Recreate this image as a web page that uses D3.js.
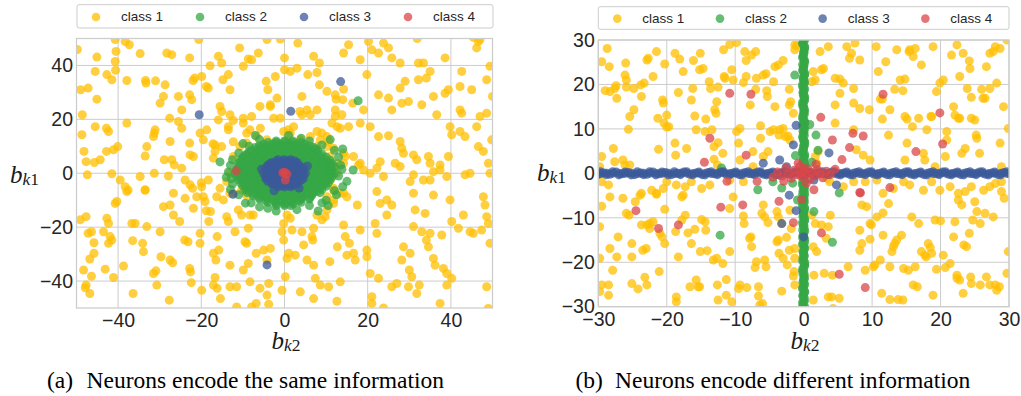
<!DOCTYPE html>
<html><head><meta charset="utf-8">
<script src="https://cdn.jsdelivr.net/npm/d3@7"></script>
<style>body{margin:0;background:#fff}svg{display:block}</style>
</head><body><svg id="c" width="1021" height="396"></svg>
<script>
const classNames = ["class 1","class 2","class 3","class 4"];
const classColors = ["#ffbf00","#35a745","#3b5a99","#d9474a"];
const ticksA = [-40,-20,0,20,40];
const ticksB = [-30,-20,-10,0,10,20,30];
const captionA = ["(a)","Neurons encode the same information"];
const captionB = ["(b)","Neurons encode different information"];

// ---------- panel (a) ----------
const a1 = [[-49.8,45.9],[-40.7,49.6],[-38.3,48.9],[-37.3,47.7],[-34.7,44.4],[-45.1,43.1],[-40.7,41.5],[-40.5,45.2],[-45.5,37.8],[-49,31],[-47.2,31.6],[-48.6,21.7],[-45.1,27.5],[-42.7,36.6],[-41.5,34.7],[-40.6,38.2],[-37.9,34.4],[-33.4,34.4],[-31,34.3],[-33.3,33.5],[-28.7,32.8],[-29.1,28.5],[-29.9,26],[-28.3,44.6],[-27.1,44],[-25.5,28.5],[-24.7,23.5],[-22.8,29.1],[-22.3,27.3],[-22.8,42.8],[-22,34.4],[-21.6,35.3],[-20.6,49.6],[-19.9,35.9],[-18.8,32.2],[-18.3,31.6],[-17.9,39.9],[-15.9,43.4],[-15.1,40.9],[-14.8,34.7],[-13.1,31],[-13.5,36.6],[-10.8,46.5],[-9.9,39.7],[-8.7,42.4],[-7.9,42.1],[-6.3,44.6],[-4.4,34.1],[-4,31],[-4.2,49.6],[-2.2,35.9],[-1,49.8],[0,42.8],[0,38.4],[1.4,37.8],[3,39],[3.2,48.3],[4.2,28.5],[7,43.4],[8.4,40.9],[7.8,37.4],[5.6,36.6],[8.4,32.8],[10.2,30.4],[12.2,29.1],[14.2,31.2],[12.4,27.5],[14,27.3],[16.4,26],[14.2,44.6],[15.4,47.7],[18.2,42.1],[19.8,36.6],[19,23.5],[20.2,48.9],[21,45.8],[22.6,44.6],[23.8,48.3],[25,46.5],[25.8,42.8],[27.8,40.9],[29,34.1],[27.8,31.6],[29.8,26.6],[28.2,26],[25,27.9],[22.6,29.1],[25.8,23.5],[32.2,40.9],[33.4,40.9],[31.9,50],[34.1,35.3],[35,37.8],[32.2,34.7],[33,25.4],[35.8,28.5],[36.6,21.7],[38.6,42.8],[38.6,29.7],[39.4,31],[42.2,23.5],[42.6,22.3],[42.2,32.2],[42.6,37.8],[45.4,50.4],[46.6,48.9],[46.2,46.5],[47,49.6],[49.4,39.7],[48.6,34.7],[45,31],[48.6,22.3],[50,28.5],
[-48.7,14.3],[-48.2,8.1],[-45.5,17.3],[-42.8,16.7],[-42.3,15.5],[-37.9,18.6],[-40.1,9.9],[-41.1,8.7],[-42.8,8.1],[-44.3,5],[-47.7,4.3],[-45.7,4],[-47.4,-0.6],[-41.5,-0.2],[-39.5,-2.5],[-38.3,-5],[-37.6,-6.2],[-34.7,-1.2],[-33.5,-6.2],[-33.5,6.4],[-33.1,9.9],[-31.3,14.9],[-31.5,13.6],[-31.1,16.1],[-31.3,0],[-28.9,5],[-27.1,5],[-26.5,3.1],[-27.9,-1],[-24.7,1.9],[-23.9,-2.5],[-22.7,-4.3],[-22.1,-5.6],[-20,-3.5],[-19.9,-5],[-21.9,6.2],[-22.7,6.8],[-19.5,12.4],[-18.7,16.1],[-20.3,14.9],[-22.8,11.2],[-24.7,16.7],[-27.5,11.8],[-27.6,20.4],[-25.5,19.2],[-15.9,19.8],[-15.1,22.9],[-13.1,21.7],[-13.5,17.3],[-12.3,19.6],[-17.2,10.9],[-16.7,8.1],[-15.1,9.9],[-9.9,20.4],[-8.3,16.1],[-7.9,21.1],[-5.8,16.7],[-6.7,13.6],[-2.6,20.4],[-3.4,24.8],[-0.2,15.5],[1.4,14.9],[-1.8,27.9],[2.2,17.3],[4.2,21.7],[6.2,21.7],[7.8,23.5],[9,14.9],[8.6,12.4],[10.6,11.8],[11.8,9.3],[14.2,7.4],[12.6,17.3],[12.2,21.1],[13.8,21.7],[15.4,17.3],[18.2,18.6],[20.6,17.3],[22.6,13.6],[25,13.9],[27.8,11.8],[28.2,9.3],[28.6,7.4],[31,6.8],[31.8,5],[34.6,6.2],[35,3.7],[37.4,3.1],[37.4,1.2],[35.8,0.6],[39.4,6.2],[39.8,17.3],[40.2,14.3],[42.2,15.5],[43.4,13.6],[46.6,9.9],[47.8,8.1],[49,3.7],[46.2,17.3],[49.8,12.4],[47,21.1],[49.4,0],[44.6,0],[43.4,-0.6],[39,-1.2],[35,-2.5],[33.4,-2.5],[31,-0.6],[30.2,-3.1],[23.8,-1.2],[22.2,1.9],[20.6,0],[23,4.3],[27.8,2.5],[26.6,3.7],[17.8,3.1],[19,1.2],[18.2,3.7],[16.6,6.2],[14.6,6.2],[12.6,3.7],[11.8,2.5],[7.8,9.9],
[-12.3,6.2],[-10.7,9.9],[-9.1,11.2],[-13.1,0],[-13.9,-3.1],[-12.3,-7.4],[-10.3,-6.2],[-9.1,-8.1],[-5.4,9.9],[-4.2,12.4],[-1.8,11.2],[0.6,12.4],[2.2,9.9],[3.8,12.4],[6.2,13.6],[10.2,9.9],[11,6.2],[9.8,0],[11,-2.5],[11.8,-5.6],[14.2,-7.4],[12.6,0],
[-49.1,-17.3],[-47.7,-16.1],[-47.2,-22.3],[-46.4,-21.7],[-45.8,-25.8],[-48.3,-35.9],[-45.8,-29.7],[-46.8,-31.8],[-46.4,-38.2],[-47.7,-41.5],[-46.8,-44.6],[-47.9,-42.5],[-40.7,-11.2],[-40.3,-10.5],[-42.7,-16.7],[-42.3,-18.6],[-43.5,-21.7],[-41.9,-23.5],[-42.3,-26],[-41.5,-24.8],[-43.1,-35.6],[-41.1,-38.7],[-38.7,-34.4],[-36.7,-18.6],[-35.9,-18.6],[-36.4,-44.6],[-36.5,-25],[-34.1,-26],[-33.9,-29.1],[-33.1,-19.8],[-31.5,-37.2],[-30.9,-36.2],[-30.7,-41.5],[-29.9,-21.7],[-29.7,-31],[-29.1,-12.4],[-27.5,-11.8],[-26.7,-15.5],[-27.5,-32.2],[-26.9,-33.2],[-27.7,-47.1],[-25.2,-17.9],[-24,-24.8],[-23.2,-25.4],[-22.8,-35.3],[-22.6,-36.6],[-22.4,-40.6],[-21.9,-13],[-21.1,-8.7],[-20.3,-22.3],[-20.3,-26],[-19.9,-43.4],[-18.8,-13.9],[-18.2,-17.9],[-17.8,-14.2],[-16.2,-23.5],[-15.8,-28.5],[-17.1,-29.7],[-16.5,-32.2],[-16.7,-38.7],[-17.1,-41.5],[-16.2,-42.7],[-15.4,-46.5],[-13.9,-16.1],[-13.5,-17.9],[-13.1,-34.1],[-11.9,-21.7],[-13.1,-42.1],[-11.5,-42.1],[-9.9,-35.9],[-11.5,-49.6],[-9.5,-25.4],[-9.1,-26],[-8.7,-20.4],[-8.7,-33.5],[-8.3,-40.3],[-7.9,-49.6],[-7.5,-15.5],[-6.8,-29.7],[-5.9,-42.7],[-6.8,-48.3],[-5,-28.5],[-4.2,-32.2],[-4.2,-45.2],[-3.8,-48.6],[-3.8,-40.9],[-3.4,-27.9],[-0.6,-21.7],[-0.2,-18.6],[-0.2,-24.8],[0.2,-38.4],[-0.6,-43.4],[0.6,-31.6],[1,-29.7],[1.4,-16.7],[1.8,-21.1],[2.6,-30.4],[3.8,-44],[4.2,-21.7],[4.6,-26.6],[5.4,-32.2],[6.6,-23.5],[6.8,-24.8],[7,-20.4],[7,-34.1],[7.4,-39],[7,-46.5],[8.6,-41.5],[9,-17.3],[9.8,-16.1],[10.9,-32.8],[10.6,-42.1],[11.8,-11.2],[12.6,-47.5],[12.7,-27.3],[13.4,-40.3],[14.2,-19.2],[14.6,-23.5],[15,-30.4],[16.6,-29.7],[17,-32.2],[15.6,-26],[17.5,-11.8],[18.2,-21.1],[19.8,-28.5],[19.8,-31],[20.6,-37.2],[21,-45.8],[21,-48.3],[21.8,-18.6],[22.2,-22.3],[22.6,-39],[23,-11.2],[23.8,-50],[24.6,-15.5],[25.8,-42.1],[27,-40.9],[28.2,-32.2],[28.6,-27.3],[30.2,-29.7],[30,-35.9],[30.6,-38.4],[29.8,-42.1],[31.4,-13.6],[31,-19.8],[31.8,-44.6],[32.4,-41.5],[33,-21.7],[33.8,-14.9],[34.1,-24.8],[34.6,-27.3],[35.8,-31.6],[36.2,-34.1],[35,-22.3],[37.8,-22.9],[38.2,-35.3],[39,-37.2],[39,-41.5],[37.4,-48.3],[40.2,-39],[40.2,-17.9],[41.8,-20.4],[43,-15.5],[44.6,-21.7],[45.4,-22.3],[47.4,-21.1],[48.2,-11.8],[48.6,-16.1],[49,-18.6],[49.4,-26],[48.6,-42.1],[49,-50.2],
[-37.9,-6.8],[-33.5,-6.2],[-26.7,-7.4],[-23.9,-9.3],[13.4,-7.4],[22.2,-6.8],[31,-7.4],[35.8,-8.1],[47.8,-8.7],[39.8,-9.9],[24.6,-9.9],[25.8,-11.8],[10.2,-8.7],[11.8,-6.2],[-16.3,-8.7],[-19.1,-10.5],[-13.1,-7.4],
[-15.5,24.8],[-16.7,10.5],[-17.1,5.6],[-18.3,-2.5],[-15.5,-5.6],[-14.7,-9.9],[-11.1,-13.6],[-10.3,-15.5],[-5.9,24.8],[-3.4,25.4],[3.7,22.9],[5.4,23.5],[12.2,23.5],[11.4,18.6],[13.4,16.7],[10.2,13.6],[14.2,3.7],[15,-8.7],[11.8,-9.9],[10.2,-13.6],[7.8,-15.5],[0.6,-15.5],[-8.3,-15.5],[-12.3,11.7],[-13.5,16.1],[-9.9,18.6],[-1,20.4],[0.9,16.1],[7.8,15.5],[-9.1,14.9],[-19.5,-8.7]];

// class 2 (a): dense blob rows [y, xs] + scattered points
const a2Rows = [[12,[-2,0,2]],[10.8,[-5,-3,-1,1,3,5]],[9.6,[-7,-5,-3,-1,1,3,5,7]],[8.4,[-8,-6,-4,-2,0,2,4,6,8]],[7.2,[-9,-7,-5,-3,-1,1,3,5,7,9]],[6,[-10,-8,-6,-4,-2,0,2,4,6,8,10]],[4.8,[-10.5,-9,-7,-5,-3,-1,1,3,5,7,9,11]],[3.6,[-11,-9,-7,-5,-3,-1,0,2,4,6,8,10,11.5]],[2.4,[-11,-9.5,-8,-6,-4,-2,0,2,4,6,8,10,12]],[1.2,[-11.5,-10,-8,-6,-4,-2,0,2,4,6,8,10,11.5]],[0,[-12,-10,-8,-6,-4,-2,0,2,4,6,8,10,12]],[-1.2,[-11.5,-10,-8,-6,-4,-2,0,2,4,6,8,10,11.5]],[-2.4,[-11,-9,-7,-5,-3,-1,1,3,5,7,9,11]],[-3.6,[-10.5,-9,-7,-5,-3,-1,1,3,5,7,9,10.5]],[-4.8,[-10,-8,-6,-4,-2,0,2,4,6,8,10]],[-6,[-9.5,-7,-5,-3,-1,1,3,5,7,9]],[-7.2,[-9,-7,-5,-3,-1,1,3,5,7,8.5]],[-8.4,[-7.5,-5.5,-3.5,-1.5,0.5,2.5,4.5,6.5]],[-9.6,[-6,-4,-2,0,2,4,6]],[-10.8,[-4,-2,0,2,4]],[-12,[-2,0,1.5]],
[11.4,[-4,-2,0,2,4]],[10.2,[-6,-4,-2,0,2,4,6]],[9,[-6.5,-4.5,-2.5,-0.5,1.5,3.5,5.5,7.5]],[7.8,[-8.5,-6.5,-4.5,-2.5,-0.5,1.5,3.5,5.5,7.5]],[6.6,[-9.5,-7.5,-5.5,-3.5,-1.5,0.5,2.5,4.5,6.5,8.5]],[5.4,[-10,-8.5,-6.5,-4.5,-2.5,-0.5,1.5,3.5,5.5,7.5,9.5]],[4.2,[-10.5,-8.5,-6.5,-4.5,-2.5,-0.5,1.5,3.5,5.5,7.5,9.5,10.5]],[3,[-10.5,-8.5,-6.5,-4.5,-2.5,-0.5,1.5,3.5,5.5,7.5,9.5,11]],[1.8,[-11,-9,-7,-5,-3,-1,1,3,5,7,9,11]],[0.6,[-11,-9,-7,-5,-3,-1,1,3,5,7,9,11]],[-0.6,[-11,-9,-7,-5,-3,-1,1,3,5,7,9,11]],[-1.8,[-10.5,-8.5,-6.5,-4.5,-2.5,-0.5,1.5,3.5,5.5,7.5,9.5,10.5]],[-3,[-10,-8,-6,-4,-2,0,2,4,6,8,10]],[-4.2,[-9.5,-7.5,-5.5,-3.5,-1.5,0.5,2.5,4.5,6.5,8.5,9.5]],[-5.4,[-9,-7.5,-5.5,-3.5,-1.5,0.5,2.5,4.5,6.5,8.5]],[-6.6,[-8.5,-6,-4,-2,0,2,4,6,8]],[-7.8,[-7.5,-5.5,-3.5,-1.5,0.5,2.5,4.5,6.5]],[-9,[-6,-4,-2,0,2,4,6]],[-10.2,[-4.5,-2.5,-0.5,1.5,3.5]],[-11.4,[-2,0,2]]];
const a2Extra = [[-7,14],[-15.5,4.2],[16.5,1.2],[15,-3],[8.1,-14],[-9.4,-11.1],[17.7,26.9],[-12.8,-2],[-13,3],[13,6],[14,9],[11,12.5],[-10,11],[4,13],[-4,-13],[3,-13.5],[9,-11],[-13,-6],[12.5,-8],[14,-5],
[-11,7.5],[-12.5,5],[-13.5,0.5],[-12.5,-4],[-11,-8],[-8,-11],[-6,-12.5],[6,-12],[10,-10],[12,-6.5],[13,-1],[13.5,3],[12,8.5],[9,10.5],[6,12],[-6,12.5],[-8.5,10],[1,14],[-2,-14],[10.5,-12],[-14,-1.5],[13.8,1.5]];
// class 3 (a)
const a3Rows = [[5,[-1.5,0,1.5]],[4,[-3,-1.5,0,1.5,3]],[3,[-4,-2.5,-1,0.5,2,3.5]],[2,[-4.5,-3,-1.5,0,1.5,3,4.5]],[1,[-4.5,-3,-1.5,0,1.5,3,4.5]],[0,[-5,-3.5,-2,-0.5,1,2.5,4,5]],[-1,[-4.5,-3,-1.5,0,1.5,3,4.5]],[-2,[-4.5,-3,-1.5,0,1.5,3,4.5]],[-3,[-4,-2.5,-1,0.5,2,3.5]],[-4,[-3,-1.5,0,1.5,3]],[-5,[-1.5,0,1.5]],
[4.5,[-2,-0.5,1,2.5]],[3.5,[-3.5,-2,-0.5,1,2.5]],[2.5,[-4,-2.5,-1,0.5,2,3.5]],[1.5,[-4,-2.5,-1,0.5,2,3.5]],[0.5,[-4,-2.5,-1,0.5,2,3.5]],[-0.5,[-4,-2.5,-1,0.5,2,3.5]],[-1.5,[-4,-2.5,-1,0.5,2,3.5]],[-2.5,[-3.5,-2,-0.5,1,2.5,4]],[-3.5,[-3,-1.5,0,1.5,3]],[-4.5,[-2,-0.5,1,2]]];
const a3Extra = [[13.5,34],[-20.5,21.7],[1.5,23],[-12.4,-7.8],[-4.2,-34],[5.5,2.7],[-2.5,-6.5],[3.5,-5.5],[-5.5,1.5]];
// class 4 (a)
const a4 = [[0,0.4],[0.6,-0.3],[-0.4,0.2],[0.2,-2.5],[-11.6,0.9]];

// ---------- panel (b) ----------
const b1 = [[-29.5,25.1],[-28.7,28.1],[-28.4,24],[-28.3,18.4],[-29,18.6],[-29.5,3.8],[-29.8,1.5],[-27.8,5.6],[-27.6,2.6],[-27.6,19.1],[-27.3,16.9],[-27.4,19.7],[-26.1,22.1],[-25.9,21],[-25.9,19.4],[-26,24.8],[-25.6,9.9],[-25.4,12.8],[-24.8,14.3],[-24.8,19.1],[-23.8,19.9],[-23.3,20.3],[-23.7,17.3],[-22.9,25.5],[-22.7,25.9],[-22,21.8],[-21.5,27.4],[-21.3,12.4],[-21.2,5.4],[-20.6,16.5],[-20.5,15.8],[-20.4,11.3],[-20,13.1],[-20,10.4],[-19.7,10.5],[-20.3,24.6],[-18.8,27],[-18.1,25.7],[-18.3,18.2],[-18.8,6.8],[-18.7,4.1],[-17.6,22.9],[-17.1,5.6],[-16.1,25.4],[-16.2,19.1],[-16.4,16.5],[-15.9,12.9],[-15.7,9.8],[-15.2,23.3],[-15.1,27],[-14.7,23.6],[-14.3,12.2],[-14.4,9.4],[-13.8,20.6],[-13.6,19.1],[-13.4,9.8],[-13.1,6],[-13,14.3],[-12.8,13.5],[-13.1,3.2],[-12.7,16.1],[-12.5,19.4],[-12.5,6.9],[-11.8,4.5],[-11.7,27.8],[-11.6,21.8],[-11.5,21.4],[-10.8,29],[-10.5,23.3],[-10.3,21],[-9.8,9.4],[-9.5,6.8],[-9.8,29.4],[-9.3,10.1],[-8.8,20.4],[-8.6,27.4],[-8.4,21.8],[-8.4,25.4],[-7.8,15.4],[-7.6,26.6],[-7.4,4.9],[-7,27.4],[-6.9,21.4],[-7,18.9],[-6.3,10.7],[-6.3,7.9],[-5.9,22.1],[-5.5,22.4],[-5.4,18.6],[-5.3,17.3],[-4.9,9.4],[-4.4,9.8],[-4.4,20.6],[-4.2,15],[-4.2,24],[-3.7,24.4],[-3.6,8.6],[-3.5,9.8],[-3,25.4],[-3,10.1],[-2.7,8.3],[-2.3,8.4],[-2,7.5],[-2.1,15.4],[-2.1,18.9],[-1.9,16.1],[-1.5,13.5],[-1.3,28.9],[-1,28.7],[-1.3,27.8],[1.4,22.9],[1.7,21],[1.2,20.6],[2.4,27.4],[2.9,23.6],[2.6,23.3],[3.6,28.5],[4.6,21.4],[5.3,21.2],[5.8,20.3],[4.6,15.4],[4.6,11.3],[5.3,18],[6.3,28.5],[6.7,25.9],[7,27],[7.5,29.3],[7.3,15.8],[7.3,9.8],[7.3,19.1],[8.2,14.6],[8.2,25.5],[7.7,5.3],[8.7,4.1],[9.6,14.3],[9.7,3],[10.6,28.5],[10.9,22.9],[11.2,16.7],[11.5,16.7],[11.5,12.2],[12,25.1],[12.4,8.6],[12.6,14.3],[13.3,18.9],[13.6,27.8],[14.1,21],[14.5,18.6],[14.8,21.2],[14.8,12.8],[15.1,6.8],[14.8,3],[15.4,27.4],[15.5,27.8],[15.1,12.2],[15.9,10.5],[16,26.3],[16.3,28.1],[16.8,12.4],[17.2,24.4],[18,9.8],[18.6,12.8],[17.5,4.5],[17.7,3],[18.9,28.5],[18.7,12.8],[19.2,1.5],[19.4,18.4],[19.9,20.3],[20.4,21],[20.9,9.4],[20.7,3.8],[20.9,7.5],[21.6,26.6],[21.9,15],[22.1,13.1],[22.4,28.9],[22.6,12.4],[22.8,12.4],[22.8,21.8],[23.1,4.5],[23.3,27],[23.6,5.6],[23.9,19.1],[24.2,25.3],[24.3,23.6],[24.5,17.1],[24.5,12.4],[25,12],[25.2,8.6],[25.3,7.9],[25.7,4.5],[26,18.9],[26.2,16.9],[26.5,16.9],[26.7,24],[27.2,19.1],[27.2,27],[27.7,27.4],[28,28.5],[28.2,20.3],[28.7,6.8],[29.2,15],[28.7,28.1],[29.7,30],[29.9,10.1],[28.9,1.5],[28.9,-1.9],[28,-2.3],[27.2,-3],[26.3,-3.8],[24.5,-3],[23.6,-4.1],[22.6,-4.5],[21.4,-3],[19.9,-3.8],[18.7,-1.9],[17.5,-3.8],[15.5,-2.6],[14.6,-1.9],[13.1,-3.4],[11.6,-4.5],[10.7,-1.5],[9,-1.9],[7.3,-1.9],[5.8,-3],[3.8,-1.9],[3.4,-1.1],[1.9,2.3],[1.7,3.8],[2.1,4.9],[-5.9,3.8],[-5.2,4.9],[-7.4,1.5],[-8.8,-1.9],[-9.3,3],[-10.8,-1.5],[-12.6,1.9],[-13.7,-2.6],[-14.9,-3.4],[-16.4,-1.9],[-17.3,-3],[-18.6,-2.6],[-20,-1.9],[-20.5,-3.4],[-22.2,-3.8],[-23.7,-4.5],[-25.4,1.9],[-26.1,1.9],[-26.4,3],[-28.5,-2.6],[-29.5,-1.9],[-28.3,-5.3],[-26.4,-5.6],[-21.5,-4.5],[-17.6,-4.9],
[-29.5,-7.4],[-29.8,-12],[-29.8,-19.1],[-29.5,-25.1],[-29.8,-26.6],[-28.5,-27.4],[-28.5,-25.1],[-28.3,-16.9],[-27.9,-21.8],[-27.1,-14.3],[-27.3,-18.8],[-25.9,-9],[-25.5,-9.4],[-25.1,-15.8],[-25.1,-18.8],[-25.1,-24.8],[-24.6,-6.4],[-24.2,-26],[-23.9,-4.9],[-23.7,-11.6],[-23.5,-17.3],[-23,-16.9],[-22.9,-11.6],[-23.2,-23.4],[-22.9,-25.1],[-22.5,-11.3],[-22,-10.9],[-22.5,-12.4],[-21.5,-4.7],[-21,-13.5],[-20.7,-14.3],[-21.1,-22.1],[-20.3,-15.8],[-20.3,-8.1],[-18.7,-13.1],[-18.6,-27.8],[-18.6,-28.9],[-18.3,-18.8],[-17.8,-10.5],[-17.8,-5.3],[-17.3,-9.4],[-16.9,-13.4],[-16.6,-25.5],[-16.4,-15.8],[-15.9,-12.6],[-15.7,-24],[-15.4,-25.5],[-15.2,-25.5],[-15.1,-17.6],[-14.9,-10.4],[-14.4,-10.9],[-14.3,-12.8],[-14.1,-17.4],[-13.2,-19.5],[-12.7,-19.1],[-12.6,-25.1],[-12.5,-28.5],[-11.8,-20.3],[-11.3,-27.4],[-11.3,-23.9],[-10.8,-17.6],[-10.5,-28.9],[-10.8,-7.9],[-10.3,-5.3],[-9.5,-25.9],[-9.3,-25.1],[-8.8,-9.6],[-8.7,-11.3],[-8.3,-25.7],[-7.9,-14.6],[-7.7,-14.3],[-7.6,-16.5],[-7.1,-21.2],[-6.9,-19.9],[-6.6,-27.6],[-6.6,-25.5],[-6.4,-29.6],[-6,-29.3],[-5.7,-19.5],[-5.5,-21],[-6.1,-9],[-5.9,-7.1],[-5.7,-9.8],[-5.2,-11.1],[-3.9,-15.4],[-3.7,-15],[-3.7,-9.8],[-3.9,-8.6],[-3.6,-18],[-3.2,-26.5],[-3.2,-11.3],[-3,-19.1],[-2.5,-14.4],[-2.4,-20.6],[-2.1,-17.3],[-2,-8.3],[-1.8,-12.4],[-1.4,-22.1],[-1.3,-25.1],[-1.5,-23.1],[-1.3,-16.9],[-1.3,-19.1],[1.2,-9.4],[1.7,-11.3],[1.4,-16.5],[1.5,-22.9],[1.4,-28.5],[1.9,-17.6],[2.6,-11.6],[3,-22.5],[3.3,-14.6],[3.6,-12],[3.9,-9.4],[4.2,-22.9],[3.6,-27.8],[4.1,-27.8],[5.2,-28.1],[4.3,-30.4],[6.5,-21],[8.2,-12.8],[8.5,-15.8],[8.2,-17.3],[9,-21.8],[8.5,-7.1],[9.2,-7.5],[9.9,-11.6],[9.7,-14.8],[9.7,-11.3],[10.7,-9.8],[10.4,-20.6],[10.2,-21],[11.2,-19.5],[11.4,-27],[11.6,-13.9],[11.6,-8.9],[12.6,-28.4],[12.4,-6.8],[12.6,-21],[12.9,-17.6],[13.1,-16.5],[13.3,-15.8],[13.6,-15],[13.8,-28.4],[14.5,-28.5],[14.3,-13.9],[14.6,-21.4],[15.3,-21.8],[15.8,-9.8],[16,-25.1],[16.6,-25.5],[16.3,-21],[16.8,-11.3],[17.2,-17.6],[17.7,-18.4],[17.9,-18.8],[18.2,-15.8],[18.5,-16.7],[18.7,-18],[19.2,-10.5],[18.9,-27.4],[19.4,-21.6],[20,-10.7],[20.4,-18.4],[20.7,-21.2],[21.4,-20.3],[21.9,-14.3],[22.1,-10.9],[22.4,-22.9],[22.4,-23.6],[22.6,-6],[22.8,-24],[23.1,-7.1],[23.3,-27],[23.4,-16.1],[23.8,-16.5],[24.2,-13.5],[24.5,-24.8],[24.4,-23.3],[24.7,-10.5],[25,-6.4],[25.3,-8.6],[25.8,-11.3],[25.8,-25.1],[26.5,-9],[26.7,-23.3],[27.2,-25.1],[27.7,-9.8],[28,-25.1],[28.2,-26.3],[28.6,-25.5],[28.9,-4.1],[29.3,-5.6],[29.7,-22.5],[29.9,-17.6]];

const b2 = [[-0.1,-31],[0.15,-30],[-0.15,-29],[0.1,-28],[0,-27],[-0.15,-26],[0.15,-25],[-0.05,-24],[0.1,-23],[-0.15,-22],[0.05,-21],[0.15,-20],[-0.1,-19],[0,-18],[0.15,-17],[-0.15,-16],[0.05,-15],[-0.1,-14],[0.15,-13],[0,-12],[-0.15,-11],[0.1,-10],[-0.05,-9],[0.15,-8],[-0.15,-7],[0.05,-6],[0.1,-5],[-0.1,-4],[0.15,-3],[-0.15,-2],[0,-1],[0.1,0],[-0.1,1],[0.15,2],[-0.05,3],[0.1,4],[-0.15,5],[0.05,6],[0.15,7],[-0.1,8],[0,9],[0.15,10],[-0.15,11],[0.05,12],[-0.1,13],[0.15,14],[0,15],[-0.15,16],[0.1,17],[-0.05,18],[0.15,19],[-0.15,20],[0.05,21],[0.1,22],[-0.1,23],[0,24],[0.15,25],[-0.15,26],[0.05,27],[0.1,28],[-0.1,29],[0.15,30],[0,31],
[0.1,-30.5],[-0.1,-29.5],[0.05,-28.5],[-0.15,-27.5],[0.15,-26.5],[0,-25.5],[-0.1,-24.5],[0.1,-23.5],[0.05,-22.5],[-0.15,-21.5],[0.15,-20.5],[-0.05,-19.5],[0.1,-18.5],[-0.1,-17.5],[0.05,-16.5],[0.15,-15.5],[-0.15,-14.5],[0,-13.5],[0.1,-12.5],[-0.1,-11.5],[0.15,-10.5],[-0.05,-9.5],[0.05,-8.5],[-0.15,-7.5],[0.1,-6.5],[-0.1,-5.5],[0.15,-4.5],[0,-3.5],[-0.15,-2.5],[0.1,-1.5],[-0.05,-0.5],[0.05,0.5],[0.15,1.5],[-0.1,2.5],[0.1,3.5],[-0.15,4.5],[0,5.5],[0.15,6.5],[-0.05,7.5],[0.1,8.5],[-0.1,9.5],[0.05,10.5],[0.15,11.5],[-0.15,12.5],[0,13.5],[0.1,14.5],[-0.1,15.5],[0.15,16.5],[-0.05,17.5],[0.05,18.5],[-0.15,19.5],[0.1,20.5],[-0.1,21.5],[0.15,22.5],[0,23.5],[-0.15,24.5],[0.1,25.5],[-0.05,26.5],[0.05,27.5],[0.15,28.5],[-0.1,29.5],[0.1,30.5],
[0.05,-30.75],[-0.1,-29.75],[0.1,-28.75],[-0.05,-27.75],[0.15,-26.75],[-0.15,-25.75],[0.05,-24.75],[0.1,-23.75],[-0.1,-22.75],[0,-21.75],[0.15,-20.75],[-0.15,-19.75],[0.05,-18.75],[-0.05,-17.75],[0.1,-16.75],[-0.1,-15.75],[0.15,-14.75],[0,-13.75],[-0.15,-12.75],[0.05,-11.75],[0.1,-10.75],[-0.1,-9.75],[0,-8.75],[0.15,-7.75],[-0.05,-6.75],[0.05,-5.75],[-0.15,-4.75],[0.1,-3.75],[-0.1,-2.75],[0.15,-1.75],[0,-0.75],[-0.15,0.25],[0.05,1.25],[0.1,2.25],[-0.05,3.25],[0.15,4.25],[-0.1,5.25],[0,6.25],[0.1,7.25],[-0.15,8.25],[0.05,9.25],[-0.05,10.25],[0.15,11.25],[-0.1,12.25],[0.1,13.25],[0,14.25],[-0.15,15.25],[0.05,16.25],[0.15,17.25],[-0.1,18.25],[0,19.25],[0.1,20.25],[-0.05,21.25],[0.15,22.25],[-0.15,23.25],[0.05,24.25],[0.1,25.25],[-0.1,26.25],[0,27.25],[0.15,28.25],[-0.15,29.25],[0.05,30.25],
[1.8,8.6],[2.1,5.2],[5.2,-4.4],[1.5,-8.6],[-12.2,-13.9],[4.2,-15.5],[-3.2,-3.3],[-4.5,-1.9],[-1.6,-2.2],[-12,1.2],[-6.7,-3.7],[1.2,2.5],[-1.2,4],[0.9,11],[-0.9,-6],[-1.3,22.1]];

const b3 = [[-31,0.2],[-30.1,-0.3],[-29.2,0.1],[-28.3,-0.2],[-27.4,0.3],[-26.5,-0.1],[-25.6,0.2],[-24.7,-0.3],[-23.8,0.1],[-22.9,-0.2],[-22,0.3],[-21.1,-0.1],[-20.2,0.2],[-19.3,-0.3],[-18.4,0],[-17.5,0.3],[-16.6,-0.2],[-15.7,0.1],[-14.8,-0.3],[-13.9,0.2],[-13,-0.1],[-12.1,0.3],[-11.2,-0.2],[-10.3,0.1],[-9.4,-0.3],[-8.5,0.2],[-7.6,-0.1],[-6.7,0.3],[-5.8,-0.2],[-4.9,0.1],[-4,-0.3],[-3.1,0.2],[-2.2,-0.1],[-1.3,0.3],[-0.4,-0.2],[0.5,0.1],[1.4,-0.3],[2.3,0.2],[3.2,-0.1],[4.1,0.3],[5,-0.2],[5.9,0.1],[6.8,-0.3],[7.7,0.2],[8.6,-0.1],[9.5,0.3],[10.4,-0.2],[11.3,0.1],[12.2,-0.3],[13.1,0.2],[14,-0.1],[14.9,0.3],[15.8,-0.2],[16.7,0.1],[17.6,-0.3],[18.5,0.2],[19.4,-0.1],[20.3,0.3],[21.2,-0.2],[22.1,0.1],[23,-0.3],[23.9,0.2],[24.8,-0.1],[25.7,0.3],[26.6,-0.2],[27.5,0.1],[28.4,-0.3],[29.3,0.2],[30.2,-0.1],[31.1,0.3],
[-30.6,-0.35],[-29.7,0.35],[-28.8,-0.3],[-27.9,0.35],[-27,-0.35],[-26.1,0.3],[-25.2,-0.35],[-24.3,0.35],[-23.4,-0.3],[-22.5,0.35],[-21.6,-0.35],[-20.7,0.3],[-19.8,-0.35],[-18.9,0.35],[-18,-0.3],[-17.1,0.35],[-16.2,-0.35],[-15.3,0.3],[-14.4,-0.35],[-13.5,0.35],[-12.6,-0.3],[-11.7,0.35],[-10.8,-0.35],[-9.9,0.3],[-9,-0.35],[-8.1,0.35],[-7.2,-0.3],[-6.3,0.35],[-5.4,-0.35],[-4.5,0.3],[-3.6,-0.35],[-2.7,0.35],[-1.8,-0.3],[-0.9,0.35],[0,-0.35],[0.9,0.3],[1.8,-0.35],[2.7,0.35],[3.6,-0.3],[4.5,0.35],[5.4,-0.35],[6.3,0.3],[7.2,-0.35],[8.1,0.35],[9,-0.3],[9.9,0.35],[10.8,-0.35],[11.7,0.3],[12.6,-0.35],[13.5,0.35],[14.4,-0.3],[15.3,0.35],[16.2,-0.35],[17.1,0.3],[18,-0.35],[18.9,0.35],[19.8,-0.3],[20.7,0.35],[21.6,-0.35],[22.5,0.3],[23.4,-0.35],[24.3,0.35],[25.2,-0.3],[26.1,0.35],[27,-0.35],[27.9,0.3],[28.8,-0.35],[29.7,0.35],[30.6,-0.3],
[-30.55,0.05],[-29.65,-0.05],[-28.75,0],[-27.85,0.05],[-26.95,-0.05],[-26.05,0],[-25.15,0.05],[-24.25,-0.05],[-23.35,0],[-22.45,0.05],[-21.55,-0.05],[-20.65,0],[-19.75,0.05],[-18.85,-0.05],[-17.95,0],[-17.05,0.05],[-16.15,-0.05],[-15.25,0],[-14.35,0.05],[-13.45,-0.05],[-12.55,0],[-11.65,0.05],[-10.75,-0.05],[-9.85,0],[-8.95,0.05],[-8.05,-0.05],[-7.15,0],[-6.25,0.05],[-5.35,-0.05],[-4.45,0],[-3.55,0.05],[-2.65,-0.05],[-1.75,0],[-0.85,0.05],[0.05,-0.05],[0.95,0],[1.85,0.05],[2.75,-0.05],[3.65,0],[4.55,0.05],[5.45,-0.05],[6.35,0],[7.25,0.05],[8.15,-0.05],[9.05,0],[9.95,0.05],[10.85,-0.05],[11.75,0],[12.65,0.05],[13.55,-0.05],[14.45,0],[15.35,0.05],[16.25,-0.05],[17.15,0],[18.05,0.05],[18.95,-0.05],[19.85,0],[20.75,0.05],[21.65,-0.05],[22.55,0],[23.45,0.05],[24.35,-0.05],[25.25,0],[26.15,0.05],[27.05,-0.05],[27.95,0],[28.85,0.05],[29.75,-0.05],[30.65,0],
[-1.1,10.8],[-1.5,6.4],[-3.5,3],[-5.9,2.3],[3.7,4.6],[4.8,-2.6],[-2.1,-4.9],[-1.1,-8.4],[-3.2,-11.3],[0,-14.3],[-2.5,1.5],[1.5,-1.5]];

const b4 = [[-3.8,0.3],[-3.2,-0.6],[-2.6,1.2],[-2.2,0],[-1.8,-1.1],[-1.4,0.7],[-1,-0.3],[-0.6,1.5],[-0.3,-0.8],[0,0.4],[0.3,-0.2],[0.6,1],[0.9,-1.3],[1.2,0.2],[1.6,-0.6],[2,0.8],[2.4,-0.1],[2.8,-1],[3.3,0.5],[3.9,-0.3],[-0.8,2.3],[0.4,-2.2],[1.8,2],[-2.9,-1.8],[4.6,0.9],[-4.5,-0.9],[0.1,1.1],[-0.5,-0.1],
[-10.8,18],[-7.7,17.8],[11.6,17.8],[2.5,12.6],[19.9,13.6],[20.3,6.6],[7.2,9],[8.7,8.4],[4.2,7.5],[16.4,4.9],[-13.7,7.9],[-8.4,4.1],[-14.5,2.5],[-11.2,-1.8],[-6.8,-1.8],[8.2,-4.3],[12.6,-3.2],[5.6,3.1],[6.7,5.8],[1.5,-3.7],[-24.5,-8.4],[-12.1,-7.6],[-8.9,-7.1],[-21.2,-12.4],[-18.3,-11.6],[-3.6,-6.3],[-1.5,-11.1],[-0.3,-5.9],[2.6,-13.4],[5.2,-22.7],[9,-25.7],[8.3,-4.4]];

// expand row-form data
const fromRows = rows => rows.flatMap(([yv, xs]) => xs.map(xv => [xv, yv]));

const panels = [
  {id:"a", dom:[-50,50], ticks:ticksA, x0:76.5, x1:492.5, y0:38.5, y1:308,
   series:[a1, fromRows(a2Rows).concat(a2Extra), fromRows(a3Rows).concat(a3Extra), a4],
   legend:{x0:77, x1:493, y0:4.7, y1:28},
   xlab:{x:286, y:349, sub:"2"}, ylab:{x:10, y:183, sub:"1"}, cap:captionA, capX:[47,86.5]},
  {id:"b", dom:[-30,30], ticks:ticksB, x0:598.3, x1:1009, y0:40, y1:306.7,
   series:[b1, b2, b3, b4],
   legend:{x0:598.3, x1:1009, y0:6.7, y1:29.3},
   xlab:{x:805, y:349, sub:"2"}, ylab:{x:537, y:181, sub:"1"}, cap:captionB, capX:[575.5,615]}
];

const svg = d3.select("#c");
const R = 4.5, OP = 0.75;
const tickFont = "'Liberation Sans', Arial, Helvetica, sans-serif";
const serif = "'Liberation Serif', 'Times New Roman', Times, serif";

panels.forEach(p => {
  const x = d3.scaleLinear().domain(p.dom).range([p.x0, p.x1]);
  const y = d3.scaleLinear().domain(p.dom).range([p.y1, p.y0]);
  const g = svg.append("g");

  // grid
  g.append("g").selectAll("line").data(p.ticks).join("line")
    .attr("x1", d => x(d)).attr("x2", d => x(d)).attr("y1", p.y0).attr("y2", p.y1)
    .attr("stroke", "#cccccc").attr("stroke-width", 1);
  g.append("g").selectAll("line").data(p.ticks).join("line")
    .attr("y1", d => y(d)).attr("y2", d => y(d)).attr("x1", p.x0).attr("x2", p.x1)
    .attr("stroke", "#cccccc").attr("stroke-width", 1);

  // clip
  svg.append("clipPath").attr("id", "clip-" + p.id).append("rect")
    .attr("x", p.x0).attr("y", p.y0).attr("width", p.x1 - p.x0).attr("height", p.y1 - p.y0);
  const pts = g.append("g").attr("clip-path", `url(#clip-${p.id})`);
  p.series.forEach((s, i) => {
    pts.append("g").selectAll("circle").data(s).join("circle")
      .attr("cx", d => x(d[0])).attr("cy", d => y(d[1])).attr("r", R)
      .attr("fill", classColors[i]).attr("fill-opacity", OP);
  });

  // frame
  g.append("rect").attr("x", p.x0).attr("y", p.y0).attr("width", p.x1 - p.x0).attr("height", p.y1 - p.y0)
    .attr("fill", "none").attr("stroke", "#cccccc").attr("stroke-width", 1.25);

  // axes
  const ax = g.append("g").attr("transform", `translate(0,${p.y1})`)
    .call(d3.axisBottom(x).tickValues(p.ticks).tickSize(0).tickPadding(5).tickFormat(d3.format("d")));
  const ay = g.append("g").attr("transform", `translate(${p.x0},0)`)
    .call(d3.axisLeft(y).tickValues(p.ticks).tickSize(0).tickPadding(3.5).tickFormat(d3.format("d")));
  [ax, ay].forEach(a => {
    a.select(".domain").remove();
    a.attr("font-family", tickFont).attr("font-size", 19.5);
    a.selectAll("text").attr("fill", "#262626");
  });

  // axis labels
  const xl = g.append("text").attr("x", p.xlab.x).attr("y", p.xlab.y).attr("text-anchor", "middle")
    .attr("font-family", serif).attr("fill", "#1a1a1a");
  xl.append("tspan").attr("font-size", 25).attr("font-style", "italic").text("b");
  xl.append("tspan").attr("font-size", 17.5).attr("font-style", "italic").attr("dy", 2).text("k");
  xl.append("tspan").attr("font-size", 17.5).text(p.xlab.sub);
  const yl = g.append("text").attr("x", p.ylab.x).attr("y", p.ylab.y)
    .attr("font-family", serif).attr("fill", "#1a1a1a");
  yl.append("tspan").attr("font-size", 25).attr("font-style", "italic").text("b");
  yl.append("tspan").attr("font-size", 17.5).attr("font-style", "italic").attr("dy", 2).text("k");
  yl.append("tspan").attr("font-size", 17.5).text(p.ylab.sub);

  // legend
  const L = p.legend;
  g.append("rect").attr("x", L.x0).attr("y", L.y0).attr("width", L.x1 - L.x0).attr("height", L.y1 - L.y0)
    .attr("rx", 2).attr("fill", "#fff").attr("stroke", "#cccccc").attr("stroke-width", 1);
  const step = (L.x1 - L.x0) / 4;
  const cy = (L.y0 + L.y1) / 2;
  const items = g.append("g").selectAll("g").data(classNames).join("g")
    .attr("transform", (d, i) => `translate(${L.x0 + 19 + i * step},${cy})`);
  items.append("circle").attr("r", 4.3).attr("cy", 0.6)
    .attr("fill", (d, i) => classColors[i]).attr("fill-opacity", OP);
  items.append("text").attr("x", 25).attr("dy", "0.35em").attr("font-family", tickFont)
    .attr("font-size", 13.5).attr("fill", "#262626").text(d => d);

  // caption
  const cap = g.append("text").attr("y", 388).attr("font-family", serif).attr("font-size", 23.5).attr("fill", "#000");
  cap.append("tspan").attr("x", p.capX[0]).text(p.cap[0]);
  cap.append("tspan").attr("x", p.capX[1]).text(p.cap[1]);
});
</script>
</body></html>
